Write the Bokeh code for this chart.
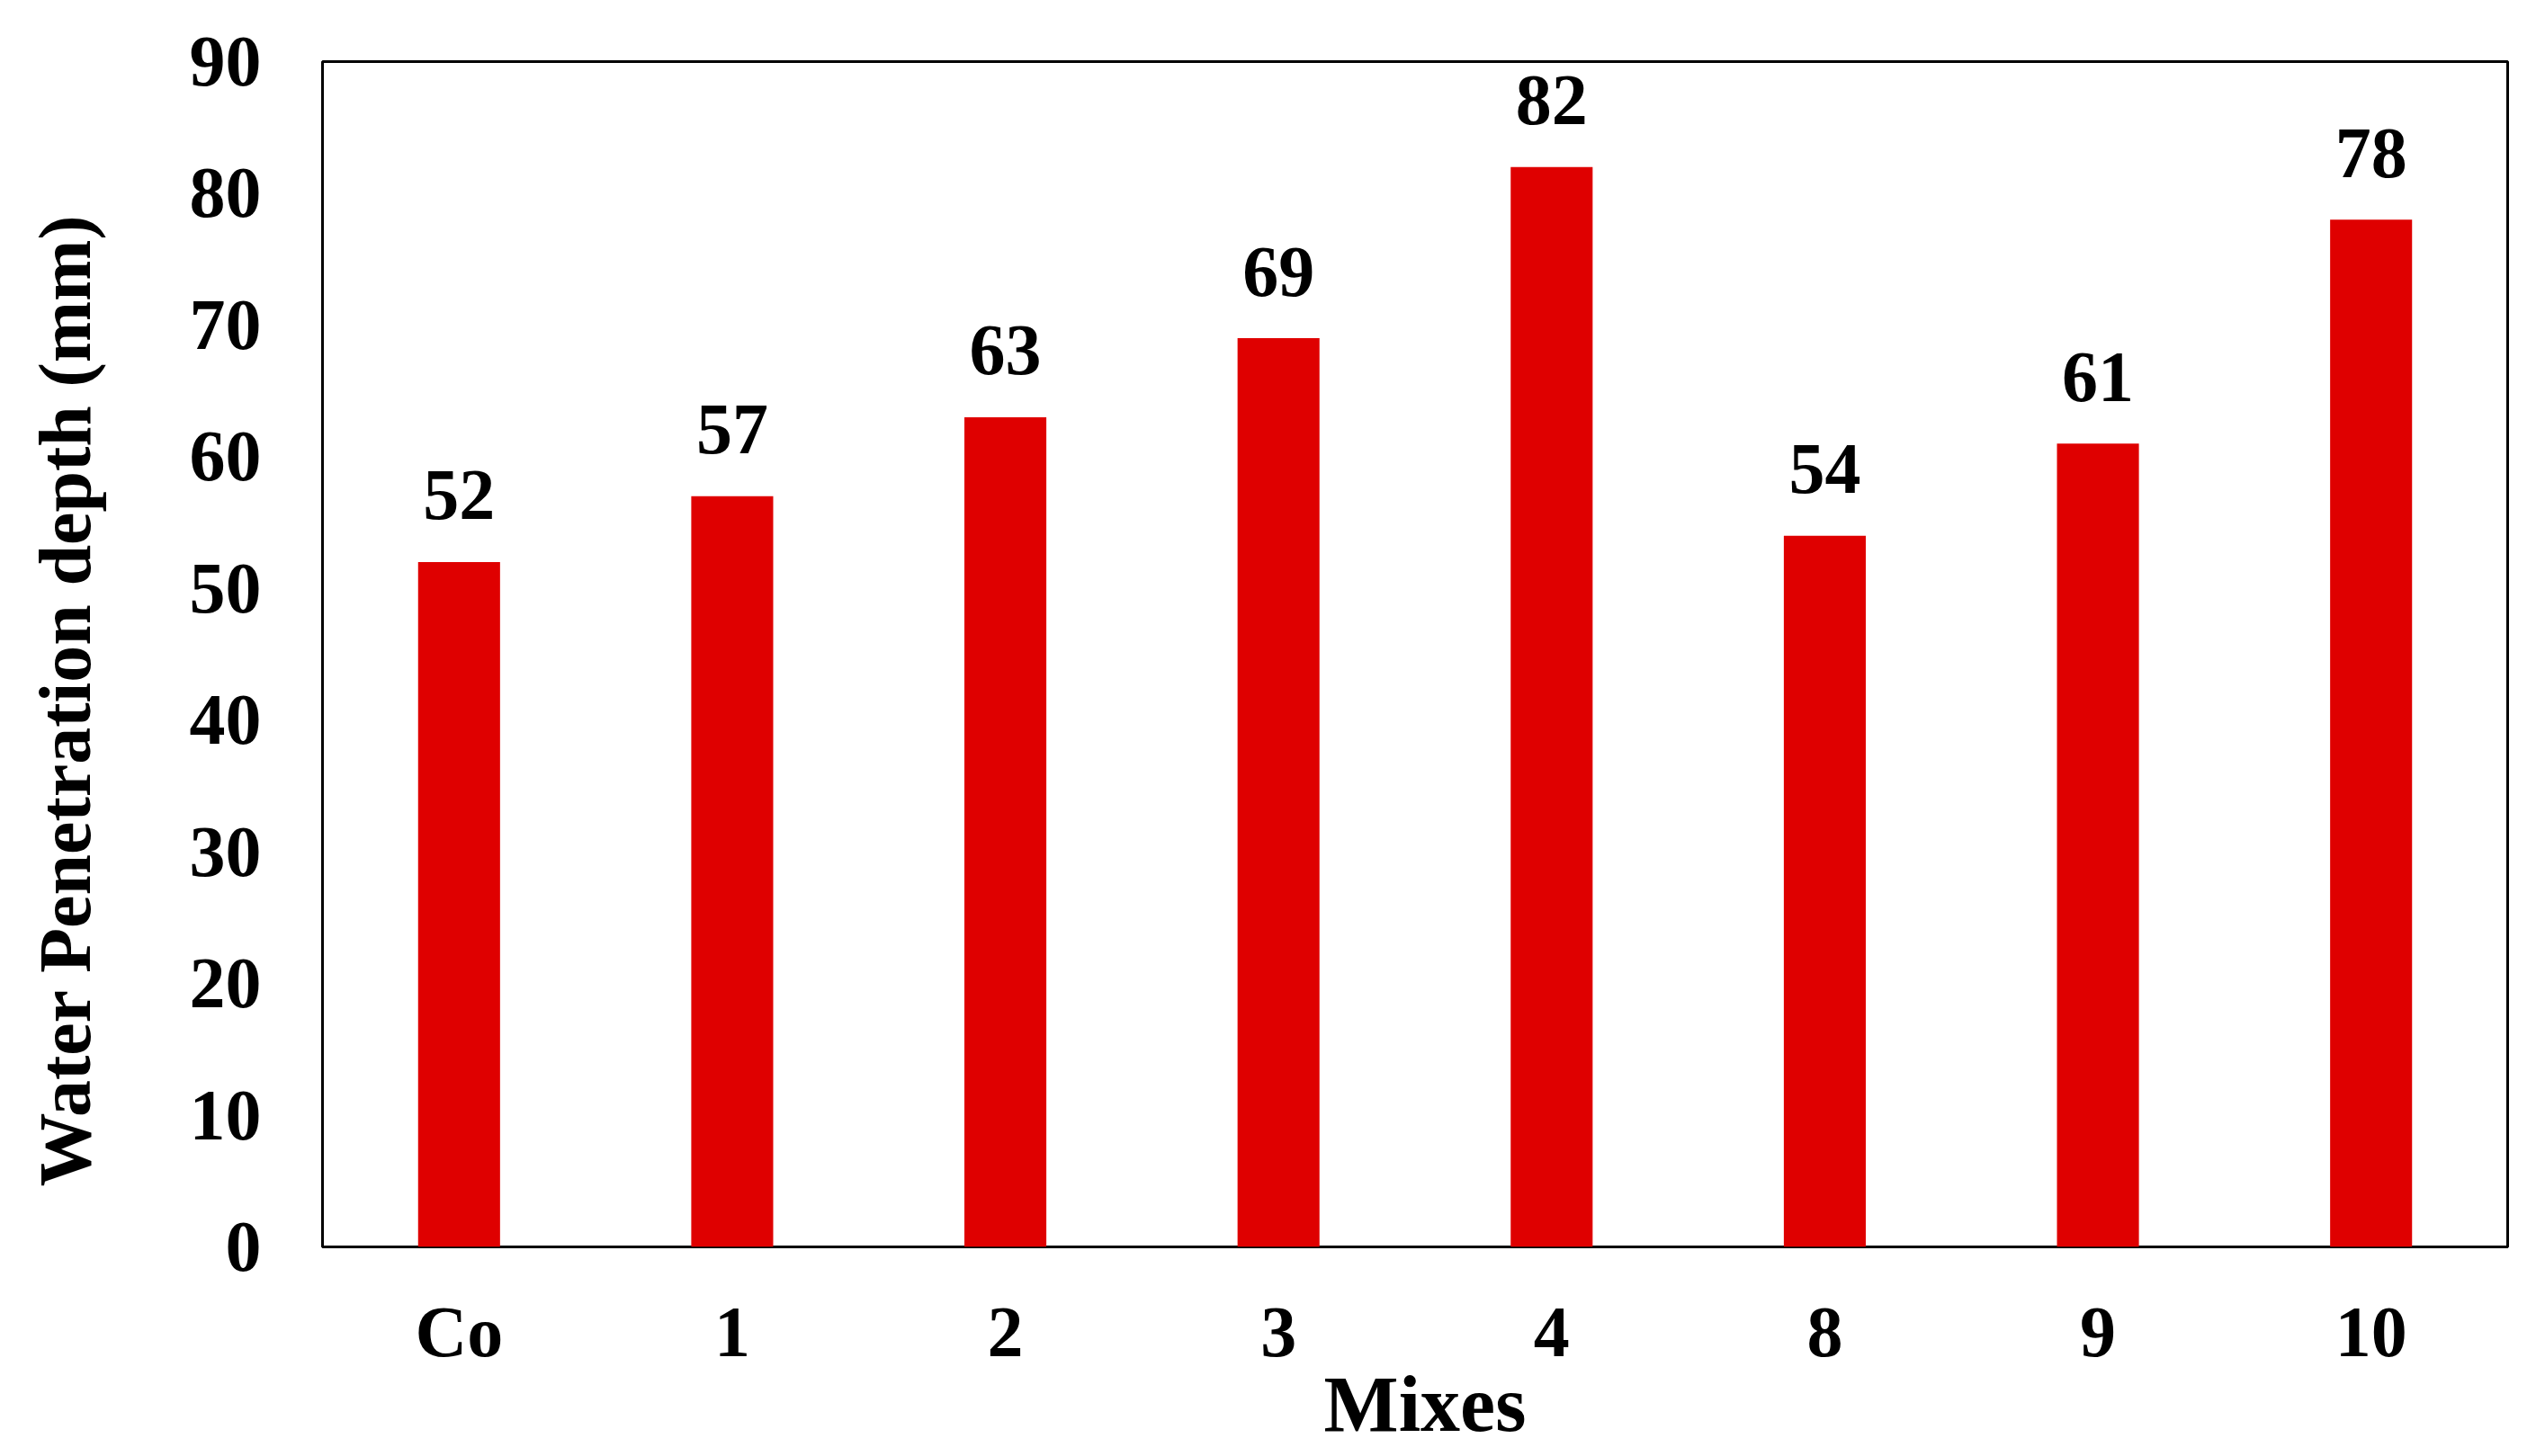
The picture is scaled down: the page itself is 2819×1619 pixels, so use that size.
import math
from bokeh.plotting import figure
from bokeh.models import ColumnDataSource, FactorRange, Range1d, FixedTicker
from bokeh.core.properties import value
from bokeh.embed import file_html
from bokeh.resources import INLINE

mixes = ["Co", "1", "2", "3", "4", "8", "9", "10"]
depth = [52, 57, 63, 69, 82, 54, 61, 78]
y_ticks = [0, 10, 20, 30, 40, 50, 60, 70, 80, 90]
x_title = "Mixes"
y_title = "Water Penetration depth (mm)"

FONT = "Liberation Serif"
RED = "#DF0000"

src = ColumnDataSource(dict(x=mixes, top=depth, lbl=[str(v) for v in depth]))

p = figure(
    width=2800, height=1615,
    x_range=FactorRange(*mixes, range_padding=0),
    y_range=Range1d(0, 90),
    output_backend="svg", toolbar_location=None,
    min_border_left=358, min_border_right=13,
    min_border_top=68, min_border_bottom=229,
)
p.vbar(x="x", top="top", width=0.30, source=src, fill_color=RED, line_color=None)
p.text(x="x", y="top", text="lbl", source=src, y_offset=-74,
       text_align="center", text_baseline="alphabetic",
       text_font=value(FONT), text_font_style="bold", text_font_size="80px",
       text_color="black")

p.xgrid.visible = False
p.ygrid.visible = False
p.outline_line_color = "black"
p.outline_line_width = 3
p.background_fill_color = "white"
p.border_fill_color = "white"

p.yaxis.ticker = FixedTicker(ticks=y_ticks)
for ax in (p.xaxis[0], p.yaxis[0]):
    ax.axis_line_color = None
    ax.major_tick_line_color = None
    ax.minor_tick_line_color = None
    ax.major_tick_out = 0
    ax.major_tick_in = 0
    ax.major_label_text_font = FONT
    ax.major_label_text_font_style = "bold"
    ax.major_label_text_font_size = "80px"
    ax.major_label_text_color = "black"
    ax.axis_label_text_font = FONT
    ax.axis_label_text_font_style = "bold"
    ax.axis_label_text_color = "black"

p.xaxis.major_label_standoff = 50
p.yaxis.major_label_standoff = 68

# leading non-breaking space nudges the title slightly right, as in the reference
p.xaxis.axis_label = "\u00a0" + x_title
p.xaxis.axis_label_text_font_size = "88px"
p.xaxis.axis_label_standoff = -15

# non-breaking padding at the end shifts the rotated title down, as in the reference
p.yaxis.axis_label = y_title + "\u00a0" * 5
p.yaxis.axis_label_text_font_size = "82px"
p.yaxis.axis_label_standoff = 90

open("out.html", "w").write(file_html(p, INLINE))
